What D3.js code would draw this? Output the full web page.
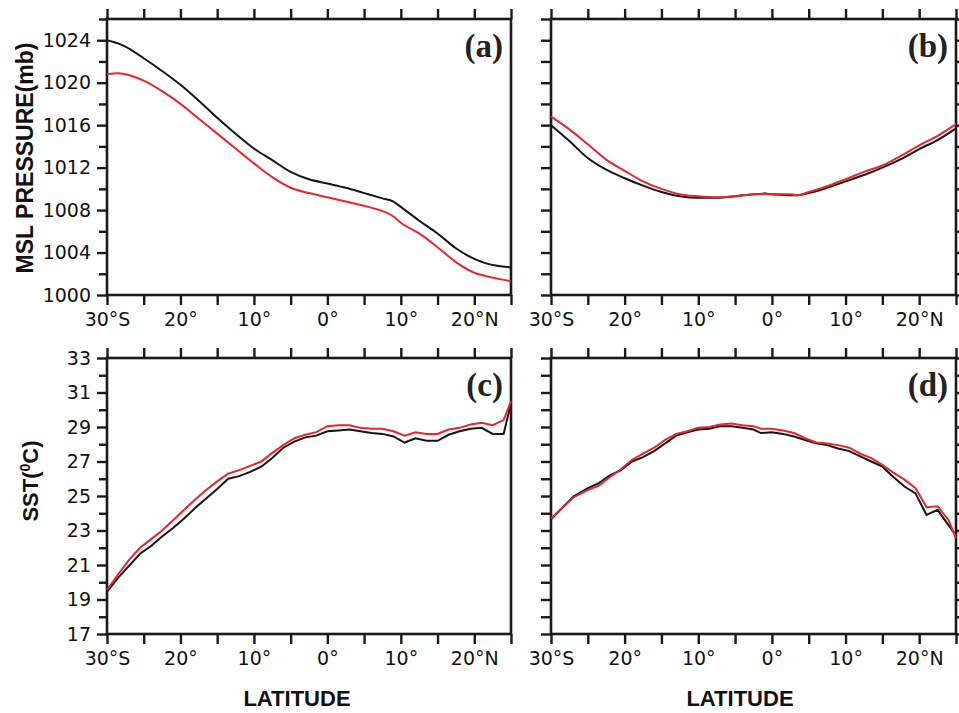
<!DOCTYPE html>
<html>
<head>
<meta charset="utf-8">
<script src="https://cdn.jsdelivr.net/npm/d3@7/dist/d3.min.js"></script>
<style>
  html, body { margin: 0; padding: 0; background: #fff; }
  svg { display: block; }
</style>
</head>
<body>
<svg id="chart" width="959" height="713"></svg>
<script>
// ---- Mean sea level pressure (mb), panels (a) and (b) ----
const latA = [-30,-28.5,-27.5,-25,-22.5,-20,-17.5,-15,-12.5,-10,-7.5,-5,-2.5,0,2.5,5,7.5,9,10,12.5,15,17.5,20,21.5,25];
const mslpA_black = [1024.0,1023.7,1023.4,1022.3,1021.1,1019.8,1018.3,1016.7,1015.2,1013.8,1012.7,1011.6,1010.9,1010.5,1010.1,1009.6,1009.1,1008.8,1008.3,1007.0,1005.8,1004.4,1003.4,1003.0,1002.6];
const mslpA_red   = [1020.8,1020.9,1020.8,1020.2,1019.2,1018.0,1016.6,1015.2,1013.8,1012.4,1011.1,1010.1,1009.6,1009.2,1008.8,1008.4,1007.9,1007.4,1006.8,1005.8,1004.5,1003.1,1002.1,1001.8,1001.3];

const latB = [-30,-27.5,-25,-22.5,-20,-17.5,-15,-12.5,-10,-7.5,-5,-2.5,-1,0,2.5,3.5,5,7.5,10,12.5,15,17.5,20,22.5,25];
const mslpB_black = [1016.0,1014.5,1012.9,1011.8,1011.0,1010.3,1009.7,1009.3,1009.15,1009.15,1009.3,1009.5,1009.55,1009.5,1009.4,1009.4,1009.6,1010.1,1010.7,1011.3,1012.0,1012.8,1013.75,1014.6,1015.7];
const mslpB_red   = [1016.8,1015.6,1014.2,1012.75,1011.7,1010.7,1010.0,1009.5,1009.3,1009.2,1009.3,1009.5,1009.55,1009.5,1009.5,1009.4,1009.7,1010.25,1010.9,1011.6,1012.2,1013.1,1014.1,1015.0,1016.1];

// ---- Sea surface temperature (deg C), panels (c) and (d) ----
const latSST = [-30,-28.5,-27,-25.5,-24,-22.5,-21,-19.5,-18,-16.5,-15,-13.5,-12,-10.5,-9,-7.5,-6,-4.5,-3,-1.5,0,1.5,3,4.5,6,7.5,9,10.5,12,13.5,15,16.5,18,19.5,21,22.5,24,25];
const sstC_black = [19.45,20.25,20.95,21.65,22.1,22.65,23.15,23.7,24.3,24.85,25.4,26.0,26.15,26.4,26.7,27.2,27.8,28.15,28.4,28.5,28.75,28.8,28.85,28.75,28.65,28.6,28.45,28.1,28.35,28.2,28.2,28.55,28.75,28.9,28.95,28.6,28.6,30.4];
const sstC_red   = [19.55,20.45,21.3,22.0,22.5,23.0,23.6,24.2,24.8,25.35,25.85,26.3,26.5,26.75,27.0,27.5,27.95,28.35,28.55,28.7,29.05,29.1,29.1,28.95,28.9,28.9,28.75,28.5,28.7,28.6,28.6,28.85,28.95,29.15,29.25,29.1,29.4,30.5];

const latD = [-30,-28.5,-27,-25,-23.5,-22,-20.5,-19,-17.5,-16,-14.5,-13,-11.5,-10,-8.5,-7,-5.5,-4,-2.5,-1.5,0,1.5,3,4.5,6,7.5,9,10.5,12,13.5,15,16.5,18,19.5,21,22.5,24,25];
const sstD_black = [23.65,24.3,24.95,25.45,25.75,26.2,26.5,27.0,27.25,27.6,28.05,28.5,28.7,28.85,28.9,29.05,29.05,28.95,28.85,28.65,28.7,28.6,28.45,28.25,28.05,27.95,27.75,27.6,27.3,27.0,26.7,26.1,25.55,25.15,23.9,24.2,23.3,22.7];
const sstD_red   = [23.7,24.3,24.9,25.35,25.6,26.1,26.55,27.1,27.45,27.8,28.25,28.6,28.75,28.95,29.0,29.15,29.2,29.1,29.05,28.9,28.9,28.8,28.65,28.35,28.1,28.05,27.95,27.8,27.45,27.2,26.8,26.35,25.95,25.45,24.35,24.4,23.6,22.55];

// ---- Axis ticks and labels ----
const latTicks = [-30,-25,-20,-15,-10,-5,0,5,10,15,20,25];
const latLabels = {"-30":"30°S","-20":"20°","-10":"10°","0":"0°","10":"10°","20":"20°N"};
const mslpTicks = [1000,1002,1004,1006,1008,1010,1012,1014,1016,1018,1020,1022,1024,1026];
const mslpLabels = [1000,1004,1008,1012,1016,1020,1024];
const sstTicks = [17,18,19,20,21,22,23,24,25,26,27,28,29,30,31,32,33];
const sstLabels = [17,19,21,23,25,27,29,31,33];

const RED = "#e8262b", BLACK = "#151515", AXIS = "#1a1a1a";
const tickFont = "'DejaVu Sans', sans-serif";
const titleFont = "'Liberation Sans', Arial, sans-serif";

const svg = d3.select("#chart");

const cols = [{x0:107, x1:511}, {x0:551, x1:956}];
const rows = [{y0:19, y1:295}, {y0:358, y1:634}];

const panels = [
  {tag:"(a)", col:0, row:0, lat:latA, black:mslpA_black, red:mslpA_red, dom:[1000,1026], ticks:mslpTicks, labels:mslpLabels, smooth:true, showY:true, rightTicks:false},
  {tag:"(b)", col:1, row:0, lat:latB, black:mslpB_black, red:mslpB_red, dom:[1000,1026], ticks:mslpTicks, labels:mslpLabels, smooth:true, showY:false, rightTicks:true},
  {tag:"(c)", col:0, row:1, lat:latSST, black:sstC_black, red:sstC_red, dom:[17,33], ticks:sstTicks, labels:sstLabels, smooth:false, showY:true, rightTicks:false},
  {tag:"(d)", col:1, row:1, lat:latD, black:sstD_black, red:sstD_red, dom:[17,33], ticks:sstTicks, labels:sstLabels, smooth:false, showY:false, rightTicks:true}
];

panels.forEach(p => {
  const {x0, x1} = cols[p.col];
  const {y0, y1} = rows[p.row];
  const x = d3.scaleLinear().domain([-30, 25]).range([x0, x1]);
  const y = d3.scaleLinear().domain(p.dom).range([y1, y0]);
  const g = svg.append("g");

  // bottom axis with latitude labels
  const bottom = g.append("g").attr("transform", `translate(0,${y1})`)
    .call(d3.axisBottom(x).tickValues(latTicks).tickSize(10).tickSizeOuter(0)
      .tickPadding(8).tickFormat(d => latLabels[String(d)] || ""));
  // top axis, ticks only
  const top = g.append("g").attr("transform", `translate(0,${y0})`)
    .call(d3.axisTop(x).tickValues(latTicks).tickSize(10).tickSizeOuter(0).tickFormat(""));
  // left axis
  const left = g.append("g").attr("transform", `translate(${x0},0)`)
    .call(d3.axisLeft(y).tickValues(p.ticks).tickSize(10).tickSizeOuter(0).tickPadding(6)
      .tickFormat(d => (p.showY && p.labels.includes(d)) ? String(d) : ""));
  if (p.showY) {
    left.selectAll(".tick").filter(d => !p.labels.includes(d)).select("line").attr("x2", -8);
  }
  const axes = [bottom, top, left];
  if (p.rightTicks) {
    axes.push(g.append("g").attr("transform", `translate(${x1},0)`)
      .call(d3.axisRight(y).tickValues(p.ticks).tickSize(10).tickSizeOuter(0).tickFormat("")));
  }
  axes.forEach(a => {
    a.select(".domain").remove();
    a.selectAll(".tick line").attr("stroke", AXIS).attr("stroke-width", 2.4);
    a.selectAll(".tick text").attr("fill", "#111").style("font-family", tickFont).style("font-size", "19px");
  });

  // plot frame
  g.append("rect").attr("x", x0).attr("y", y0).attr("width", x1 - x0).attr("height", y1 - y0)
    .attr("fill", "none").attr("stroke", AXIS).attr("stroke-width", 2.6);

  const line = d3.line().x((d, i) => x(p.lat[i])).y(d => y(d))
    .curve(p.smooth ? d3.curveMonotoneX : d3.curveLinear);
  g.append("path").attr("d", line(p.black)).attr("fill", "none").attr("stroke", BLACK).attr("stroke-width", 2);
  g.append("path").attr("d", line(p.red)).attr("fill", "none").attr("stroke", RED).attr("stroke-width", 2);

  // panel tag
  g.append("text").attr("x", x1 - 8).attr("y", y0 + 38).attr("text-anchor", "end")
    .style("font-family", "'Liberation Serif', 'Times New Roman', serif").style("font-weight", "bold")
    .style("font-size", "33px").attr("fill", "#222").text(p.tag);
});

// axis titles
svg.append("text").attr("transform", "translate(33,158) rotate(-90)").attr("text-anchor", "middle")
  .style("font-family", titleFont).style("font-weight", "bold").style("font-size", "23px").attr("fill", "#111")
  .text("MSL PRESSURE(mb)");

const sst = svg.append("text").attr("transform", "translate(38,481) rotate(-90)").attr("text-anchor", "middle")
  .style("font-family", titleFont).style("font-weight", "bold").style("font-size", "22px").attr("fill", "#111");
sst.append("tspan").text("SST(");
sst.append("tspan").attr("baseline-shift", "super").style("font-size", "14px").text("0");
sst.append("tspan").text("C)");

[297, 740].forEach(cx => {
  svg.append("text").attr("x", cx).attr("y", 706).attr("text-anchor", "middle")
    .style("font-family", titleFont).style("font-weight", "bold").style("font-size", "22px").attr("fill", "#111")
    .text("LATITUDE");
});
</script>
</body>
</html>
